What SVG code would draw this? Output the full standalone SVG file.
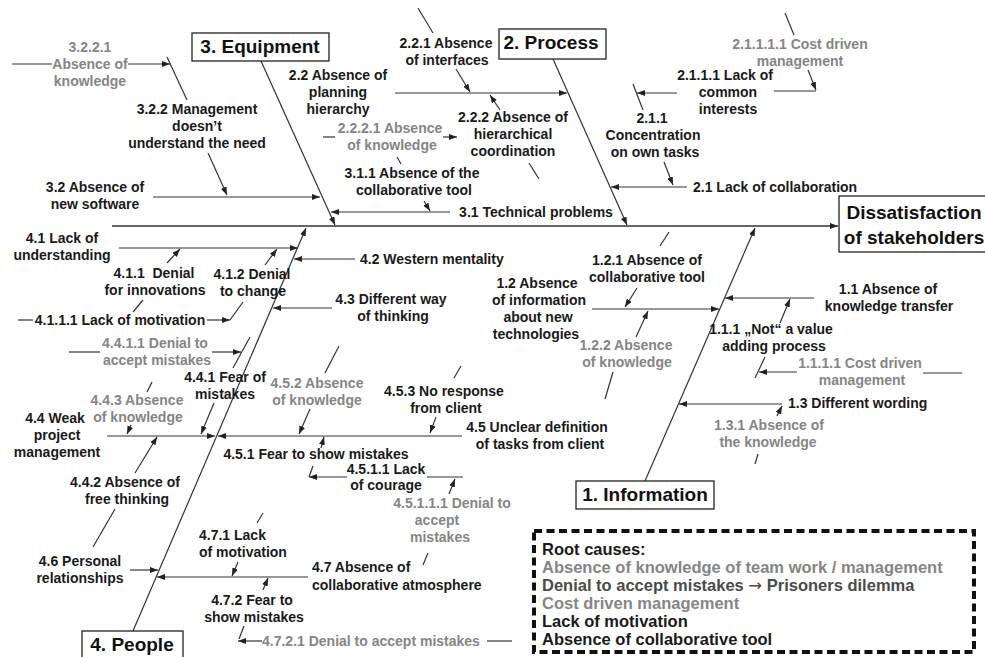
<svg xmlns="http://www.w3.org/2000/svg" width="985" height="657" viewBox="0 0 985 657">
<defs>
<marker id="ah" markerWidth="8" markerHeight="6" refX="8" refY="3" orient="auto" markerUnits="userSpaceOnUse">
<path d="M0,0 L8,3 L0,6 z" fill="#222"/>
</marker>
</defs>
<style>
text{font-family:"Liberation Sans",Arial,sans-serif;font-weight:bold;font-size:14px;fill:#1a1a1a}
.g{fill:#858585}
.d{fill:#4a4a4a}
.m{text-anchor:middle}
.t{font-size:19px;fill:#111}
.bx{fill:#fff;stroke:#222;stroke-width:1.3}
#connectors line{stroke:#333;stroke-width:1.2}
#connectors .a{marker-end:url(#ah)}
#connectors .sp{stroke-width:1.6}
.rc{font-size:16.5px}
</style>
<rect width="985" height="657" fill="#fff"/>

<g id="connectors">
<line class="a sp" x1="112" y1="226" x2="838" y2="226"/>
<line class="a" x1="261" y1="61" x2="335" y2="225"/>
<line class="a" x1="553" y1="59" x2="627" y2="225"/>
<line class="a" x1="645" y1="481" x2="755" y2="228"/>
<line class="a" x1="133" y1="631" x2="306" y2="228"/>
<line x1="12" y1="64" x2="52" y2="64"/>
<line class="a" x1="128" y1="64" x2="170" y2="64"/>
<line x1="167" y1="57" x2="187" y2="100"/>
<line class="a" x1="208" y1="153" x2="227" y2="195"/>
<line class="a" x1="153" y1="197" x2="320" y2="197"/>
<line class="a" x1="395" y1="93" x2="567" y2="93"/>
<line x1="418" y1="8" x2="433" y2="33"/>
<line class="a" x1="456" y1="69" x2="470" y2="92"/>
<line class="a" x1="500" y1="110" x2="490" y2="95"/>
<line x1="529" y1="163" x2="539" y2="179"/>
<line x1="323" y1="137" x2="335" y2="137"/>
<line class="a" x1="443" y1="137" x2="457" y2="137"/>
<line x1="397" y1="157" x2="401" y2="164"/>
<line class="a" x1="424" y1="201" x2="430" y2="211"/>
<line class="a" x1="450" y1="212" x2="331" y2="212"/>
<line x1="785" y1="13" x2="794" y2="35"/>
<line class="a" x1="808" y1="70" x2="816" y2="90"/>
<line x1="774" y1="91" x2="816" y2="91"/>
<line class="a" x1="677" y1="93" x2="637" y2="93"/>
<line x1="633" y1="84" x2="643" y2="110"/>
<line class="a" x1="664" y1="162" x2="673" y2="185"/>
<line class="a" x1="687" y1="187" x2="611" y2="187"/>
<line class="a" x1="119" y1="248" x2="298" y2="248"/>
<line class="a" x1="167" y1="263" x2="180" y2="249"/>
<line x1="143" y1="300" x2="133" y2="312"/>
<line class="a" x1="265" y1="265" x2="277" y2="249"/>
<line x1="243" y1="302" x2="230" y2="320"/>
<line x1="18" y1="320" x2="33" y2="320"/>
<line class="a" x1="207" y1="320" x2="230" y2="320"/>
<line class="a" x1="355" y1="259" x2="294" y2="259"/>
<line class="a" x1="332" y1="308" x2="273" y2="308"/>
<line x1="69" y1="352" x2="100" y2="352"/>
<line class="a" x1="212" y1="352" x2="241" y2="352"/>
<line x1="250" y1="337" x2="233" y2="368"/>
<line class="a" x1="214" y1="403" x2="201" y2="434"/>
<line x1="152" y1="382" x2="147" y2="392"/>
<line class="a" x1="131" y1="425" x2="127" y2="434"/>
<line class="a" x1="107" y1="436" x2="215" y2="436"/>
<line class="a" x1="462" y1="436" x2="218" y2="436"/>
<line class="a" x1="135" y1="473" x2="157" y2="437"/>
<line x1="115" y1="509" x2="93" y2="547"/>
<line x1="339" y1="346" x2="325" y2="373"/>
<line class="a" x1="310" y1="409" x2="299" y2="434"/>
<line x1="461" y1="366" x2="454" y2="378"/>
<line class="a" x1="436" y1="417" x2="430" y2="433"/>
<line class="a" x1="321" y1="448" x2="324" y2="437"/>
<line x1="313" y1="466" x2="309" y2="477"/>
<line class="a" x1="347" y1="477" x2="309" y2="477"/>
<line x1="427" y1="477" x2="463" y2="477"/>
<line class="a" x1="449" y1="494" x2="455" y2="479"/>
<line x1="428" y1="553" x2="423" y2="565"/>
<line class="a" x1="130" y1="570" x2="158" y2="570"/>
<line class="a" x1="308" y1="577" x2="157" y2="577"/>
<line x1="263" y1="513" x2="257" y2="523"/>
<line class="a" x1="238" y1="562" x2="232" y2="576"/>
<line class="a" x1="263" y1="590" x2="268" y2="578"/>
<line x1="244" y1="626" x2="239" y2="639"/>
<line class="a" x1="262" y1="641" x2="238" y2="641"/>
<line x1="487" y1="641" x2="512" y2="641"/>
<line class="a" x1="592" y1="309" x2="719" y2="309"/>
<line x1="669" y1="232" x2="660" y2="246"/>
<line class="a" x1="637" y1="288" x2="625" y2="307"/>
<line class="a" x1="636" y1="337" x2="648" y2="311"/>
<line x1="613" y1="372" x2="605" y2="399"/>
<line class="a" x1="814" y1="298" x2="725" y2="298"/>
<line class="a" x1="780" y1="323" x2="790" y2="299"/>
<line x1="765" y1="357" x2="755" y2="378"/>
<line class="a" x1="797" y1="372" x2="759" y2="372"/>
<line x1="923" y1="373" x2="962" y2="373"/>
<line class="a" x1="782" y1="404" x2="679" y2="404"/>
<line class="a" x1="777" y1="416" x2="782" y2="406"/>
<line x1="758" y1="454" x2="755" y2="464"/>
</g>

<g id="effect">
<rect class="bx" x="839" y="196" width="150" height="56"/>
<text class="t m" x="914" y="219">Dissatisfaction</text>
<text class="t m" x="914" y="244">of stakeholders</text>
</g>
<g id="cat-equipment">
<rect class="bx" x="192" y="33" width="137" height="28"/>
<text class="t m" x="260" y="53">3. Equipment</text>
</g>
<g id="cat-process">
<rect class="bx" x="499" y="29" width="107" height="30"/>
<text class="t m" x="551" y="49">2. Process</text>
</g>
<g id="cat-information">
<rect class="bx" x="576" y="481" width="138" height="28"/>
<text class="t m" x="645" y="501">1. Information</text>
</g>
<g id="cat-people">
<rect class="bx" x="82" y="631" width="101" height="32"/>
<text class="t m" x="132" y="651">4. People</text>
</g>

<g id="n3221"><text class="g m" x="90" y="52">3.2.2.1</text><text class="g m" x="90" y="69">Absence of</text><text class="g m" x="90" y="86">knowledge</text></g>
<g id="n322"><text class="m" x="197" y="114">3.2.2 Management</text><text class="m" x="197" y="131">doesn’t</text><text class="m" x="197" y="148">understand the need</text></g>
<g id="n32"><text class="m" x="95" y="192">3.2 Absence of</text><text class="m" x="95" y="209">new software</text></g>
<g id="n22"><text class="m" x="338" y="80">2.2 Absence of</text><text class="m" x="338" y="97">planning</text><text class="m" x="338" y="114">hierarchy</text></g>
<g id="n221"><text class="m" x="446" y="48">2.2.1 Absence</text><text class="m" x="447" y="65">of interfaces</text></g>
<g id="n222"><text class="m" x="513" y="122">2.2.2 Absence of</text><text class="m" x="513" y="139">hierarchical</text><text class="m" x="513" y="156">coordination</text></g>
<g id="n2221"><text class="g m" x="390" y="133">2.2.2.1 Absence</text><text class="g m" x="392" y="150">of knowledge</text></g>
<g id="n311"><text class="m" x="412" y="178">3.1.1 Absence of the</text><text class="m" x="414" y="195">collaborative tool</text></g>
<g id="n31"><text class="m" x="536" y="217">3.1 Technical problems</text></g>
<g id="n21111"><text class="g m" x="800" y="49">2.1.1.1.1 Cost driven</text><text class="g m" x="800" y="66">management</text></g>
<g id="n2111"><text class="m" x="725" y="80">2.1.1.1 Lack of</text><text class="m" x="728" y="97">common</text><text class="m" x="728" y="114">interests</text></g>
<g id="n211"><text class="m" x="652" y="123">2.1.1</text><text class="m" x="653" y="140">Concentration</text><text class="m" x="655" y="157">on own tasks</text></g>
<g id="n21"><text x="693" y="192">2.1 Lack of collaboration</text></g>

<g id="n41"><text class="m" x="62" y="243">4.1 Lack of</text><text class="m" x="62" y="260">understanding</text></g>
<g id="n411"><text class="m" x="154" y="278">4.1.1&#160; Denial</text><text class="m" x="155" y="295">for innovations</text></g>
<g id="n412"><text class="m" x="252" y="279">4.1.2 Denial</text><text class="m" x="253" y="296">to change</text></g>
<g id="n4111"><text class="m" x="120" y="325">4.1.1.1 Lack of motivation</text></g>
<g id="n4411"><text class="g m" x="155" y="348">4.4.1.1 Denial to</text><text class="g m" x="157" y="365">accept mistakes</text></g>
<g id="n42"><text x="360" y="264">4.2 Western mentality</text></g>
<g id="n43"><text class="m" x="391" y="304">4.3 Different way</text><text class="m" x="393" y="321">of thinking</text></g>
<g id="n441"><text class="m" x="225" y="382">4.4.1 Fear of</text><text class="m" x="225" y="399">mistakes</text></g>
<g id="n443"><text class="g m" x="137" y="405">4.4.3 Absence</text><text class="g m" x="138" y="422">of knowledge</text></g>
<g id="n44"><text class="m" x="55" y="423">4.4 Weak</text><text class="m" x="57" y="440">project</text><text class="m" x="57" y="457">management</text></g>
<g id="n452"><text class="g m" x="317" y="388">4.5.2 Absence</text><text class="g m" x="317" y="405">of knowledge</text></g>
<g id="n453"><text class="m" x="444" y="396">4.5.3 No response</text><text class="m" x="446" y="413">from client</text></g>
<g id="n45"><text class="m" x="537" y="432">4.5 Unclear definition</text><text class="m" x="540" y="449">of tasks from client</text></g>
<g id="n451"><text class="m" x="316" y="459">4.5.1 Fear to show mistakes</text></g>
<g id="n4511"><text class="m" x="386" y="474">4.5.1.1 Lack</text><text class="m" x="386" y="490">of courage</text></g>
<g id="n45111"><text class="g m" x="452" y="508">4.5.1.1.1 Denial to</text><text class="g m" x="437" y="525">accept</text><text class="g m" x="440" y="542">mistakes</text></g>
<g id="n442"><text class="m" x="125" y="487">4.4.2 Absence of</text><text class="m" x="127" y="504">free thinking</text></g>
<g id="n46"><text class="m" x="80" y="566">4.6 Personal</text><text class="m" x="80" y="583">relationships</text></g>
<g id="n471"><text x="199" y="540">4.7.1 Lack</text><text x="199" y="557">of motivation</text></g>
<g id="n47"><text x="312" y="572">4.7 Absence of</text><text x="312" y="590">collaborative atmosphere</text></g>
<g id="n472"><text class="m" x="252" y="605">4.7.2 Fear to</text><text class="m" x="254" y="622">show mistakes</text></g>
<g id="n4721"><text class="g" x="262" y="646">4.7.2.1 Denial to accept mistakes</text></g>

<g id="n12"><text class="m" x="537" y="288">1.2 Absence</text><text class="m" x="539" y="305">of information</text><text class="m" x="538" y="322">about new</text><text class="m" x="536" y="339">technologies</text></g>
<g id="n121"><text class="m" x="647" y="265">1.2.1 Absence of</text><text class="m" x="647" y="282">collaborative tool</text></g>
<g id="n122"><text class="g m" x="626" y="350">1.2.2 Absence</text><text class="g m" x="627" y="367">of knowledge</text></g>
<g id="n11"><text class="m" x="888" y="294">1.1 Absence of</text><text class="m" x="889" y="311">knowledge transfer</text></g>
<g id="n111"><text class="m" x="771" y="334">1.1.1 „Not“ a value</text><text class="m" x="774" y="351">adding process</text></g>
<g id="n1111"><text class="g m" x="860" y="368">1.1.1.1 Cost driven</text><text class="g m" x="862" y="385">management</text></g>
<g id="n13"><text x="788" y="408">1.3 Different wording</text></g>
<g id="n131"><text class="g m" x="769" y="430">1.3.1 Absence of</text><text class="g m" x="768" y="447">the knowledge</text></g>

<g id="root-causes">
<rect x="534" y="531" width="440" height="121" fill="none" stroke="#111" stroke-width="4" stroke-dasharray="8 4.5"/>
<text class="rc" x="542" y="555">Root causes:</text>
<text class="rc g" x="542" y="573">Absence of knowledge of team work / management</text>
<text class="rc d" x="542" y="591">Denial to accept mistakes <tspan font-family="DejaVu Sans, sans-serif" font-weight="normal">→</tspan> Prisoners dilemma</text>
<text class="rc g" x="542" y="609">Cost driven management</text>
<text class="rc" x="542" y="627">Lack of motivation</text>
<text class="rc" x="542" y="645">Absence of collaborative tool</text>
</g>
</svg>
